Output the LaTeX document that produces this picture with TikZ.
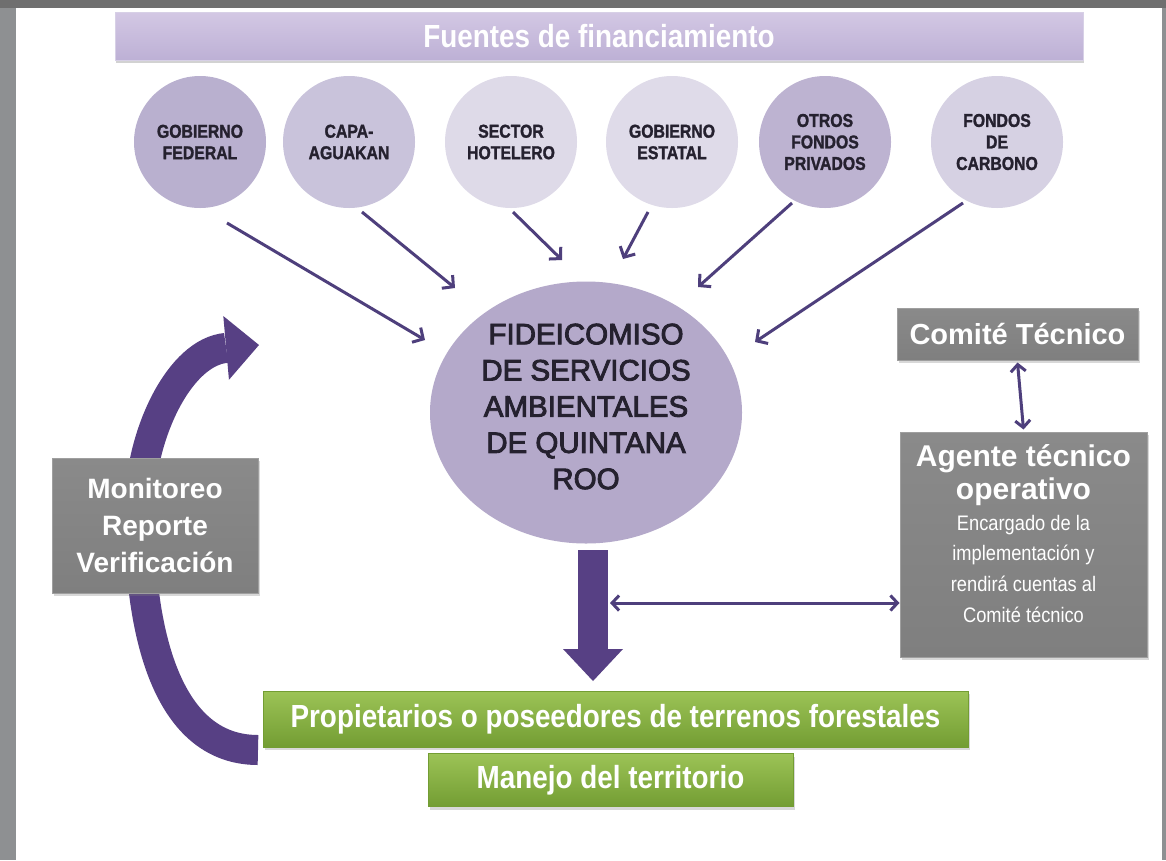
\documentclass[tikz,border=0pt]{standalone}
\usepackage{fontspec}
\setmainfont{Liberation Sans}
\newfontfamily\nar[FakeStretch=0.87]{Liberation Sans}
\newfontfamily\narc[FakeStretch=0.85,FakeBold=1.5]{Liberation Sans}
\newfontfamily\fidefont[FakeBold=3]{Liberation Sans}
\usetikzlibrary{arrows.meta,shapes.geometric,shadows}
\definecolor{frameL}{HTML}{8E9092}
\definecolor{frameT}{HTML}{6F6F6F}
\definecolor{titlecol}{HTML}{BDB0D5}
\definecolor{titletop}{HTML}{D3C8E4}
\definecolor{cA}{HTML}{B9B0CF}
\definecolor{cB}{HTML}{C9C3DB}
\definecolor{cC}{HTML}{DEDAE8}
\definecolor{cD}{HTML}{DFDBE9}
\definecolor{cE}{HTML}{BDB3D1}
\definecolor{cF}{HTML}{D6D1E3}
\definecolor{fidecol}{HTML}{B4A9CA}
\definecolor{ctext}{HTML}{25212F}
\definecolor{thincol}{HTML}{4E3F7C}
\definecolor{bigcol}{HTML}{574084}
\definecolor{gboxcol}{HTML}{7F7F7F}
\definecolor{gboxtop}{HTML}{8A8A8A}
\definecolor{greenT}{HTML}{9CC356}
\definecolor{greenB}{HTML}{739D33}
\begin{document}
\begin{tikzpicture}[x=1pt,y=-1pt,
  src/.style={circle, minimum size=132pt, inner sep=0pt, align=center, text=ctext,
    font=\narc\bfseries\fontsize{18.6}{21.5}\selectfont},
  thinarr/.style={draw=thincol, line width=3pt, -{Straight Barb[length=8pt,width=17pt]}},
  dblarr/.style={draw=thincol, line width=3pt,
    {Straight Barb[length=7pt,width=15pt]}-{Straight Barb[length=7pt,width=15pt]}},
  bigarr/.style={draw=bigcol, line width=30pt, -{Triangle[length=32pt,width=60pt,line width=0pt]}},
  graybox/.style={rectangle, top color=gboxtop, bottom color=gboxcol, draw=gray!75, line width=1pt,
    text=white, inner sep=0pt, align=center,
    drop shadow={opacity=0.3, shadow xshift=2pt, shadow yshift=-3pt}},
  greenbox/.style={rectangle, top color=greenT, bottom color=greenB, draw=greenB, line width=0.6pt,
    text=white, inner sep=0pt, font=\nar\bfseries\fontsize{32}{36}\selectfont,
    drop shadow={opacity=0.3, shadow xshift=2pt, shadow yshift=-3pt}},
  wtext/.style={align=center, text=white, inner sep=0pt, anchor=north}
]
\useasboundingbox (0,0) rectangle (1166,860);
\fill[white] (0,0) rectangle (1166,860);
\fill[frameL] (0,0) rectangle (16,860);
\fill[frameL] (1162,0) rectangle (1166,860);
\fill[frameT] (0,0) rectangle (1166,8);

% title bar
\node[rectangle, top color=titletop, bottom color=titlecol, draw=titlecol!60!white, line width=1pt,
  text=white, inner sep=0pt, minimum width=968pt, minimum height=48pt,
  font=\nar\bfseries\fontsize{32}{36}\selectfont,
  drop shadow={opacity=0.35, shadow xshift=1pt, shadow yshift=-3pt}]
  (title) at (599,36) {Fuentes de financiamiento};

% sources
\node[src, fill=cA] (c1) at (200,142) {GOBIERNO\\FEDERAL};
\node[src, fill=cB] (c2) at (349,142) {CAPA-\\AGUAKAN};
\node[src, fill=cC] (c3) at (511,142) {SECTOR\\HOTELERO};
\node[src, fill=cD] (c4) at (672,142) {GOBIERNO\\ESTATAL};
\node[src, fill=cE] (c5) at (825,142) {OTROS\\FONDOS\\PRIVADOS};
\node[src, fill=cF] (c6) at (997,142) {FONDOS\\DE\\CARBONO};

% central trust
\node[ellipse, fill=fidecol, minimum width=312pt, minimum height=262pt, inner sep=0pt]
  (fide) at (586,412.5) {};
\node[align=center, text=ctext, inner sep=0pt, font=\fidefont\fontsize{29.5}{36.2}\selectfont]
  (fidetext) at (586,406.5) {FIDEICOMISO\\DE SERVICIOS\\AMBIENTALES\\DE QUINTANA\\ROO};

% arrows from sources
\coordinate (a1s) at (227,223); \coordinate (a1e) at (425,340);
\coordinate (a2s) at (362,212); \coordinate (a2e) at (455,288);
\coordinate (a3s) at (513,212); \coordinate (a3e) at (562,260);
\coordinate (a4s) at (648,212); \coordinate (a4e) at (623,259);
\coordinate (a5s) at (792,203); \coordinate (a5e) at (698,287);
\coordinate (a6s) at (963,203); \coordinate (a6e) at (755,342);
\draw[thinarr] (a1s) -- (a1e);
\draw[thinarr] (a2s) -- (a2e);
\draw[thinarr] (a3s) -- (a3e);
\draw[thinarr] (a4s) -- (a4e);
\draw[thinarr] (a5s) -- (a5e);
\draw[thinarr] (a6s) -- (a6e);

% right boxes
\node[graybox, minimum width=241pt, minimum height=52pt, font=\bfseries\fontsize{29}{34}\selectfont]
  (comite) at (1017.5,334) {Comité Técnico};
\node[graybox, minimum width=247pt, minimum height=225pt] (agente) at (1023.5,544.5) {};
\node[wtext, font=\bfseries\fontsize{30}{33}\selectfont] (agtitle) at (1023.5,444.5)
  {Agente técnico\\operativo};
\node[wtext, font=\nar\fontsize{21}{30.7}\selectfont] (agdesc) at (1023.5,514.6)
  {Encargado de la\\implementación y\\rendirá cuentas al\\Comité técnico};
\draw[dblarr] ([yshift=-2pt]comite.south) -- ([yshift=2pt]agente.north);

% big down arrow
\coordinate (dTop) at (593,550);
\coordinate (dTip) at (593,681);
\draw[bigarr] (dTop) -- (dTip);

% horizontal double arrow
\coordinate (hL) at (610,603);
\draw[dblarr] (hL) -- (agente.west |- hL);

% curved feedback arrow
\coordinate (cTail) at (258,750);
\coordinate (cTip) at (259,345);
\draw[draw=bigcol, line width=30pt, -{Triangle[length=33pt,width=64pt,line width=0pt]}]
  (cTail) .. controls (155,750) and (137,600) .. (140,500)
          .. controls (142,432) and (180,352) .. (cTip);

\node[graybox, minimum width=206pt, minimum height=135pt, font=\bfseries\fontsize{28}{37}\selectfont]
  (mon) at (155,525.5) {Monitoreo\\Reporte\\Verificación};

% green boxes
\node[greenbox, minimum width=705pt, minimum height=56pt] (prop) at (615.5,719)
  {Propietarios o poseedores de terrenos forestales};
\node[greenbox, minimum width=365pt, minimum height=53pt] (man) at (610.5,780)
  {Manejo del territorio};
\end{tikzpicture}
\end{document}
